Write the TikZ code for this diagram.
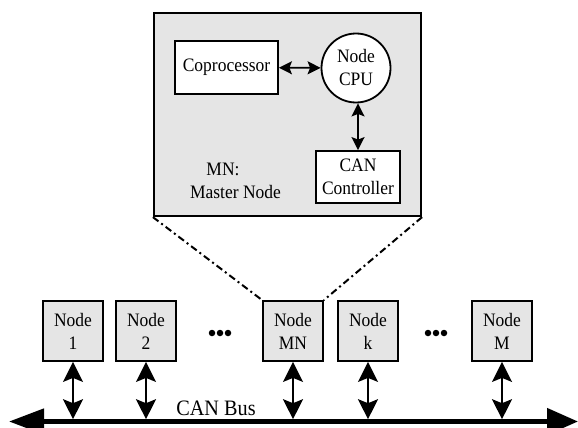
\documentclass[tikz,border=0pt]{standalone}
\usepackage{fontspec}
\setmainfont{Liberation Serif}[FakeStretch=0.92]
\usetikzlibrary{arrows.meta}
\definecolor{panel}{HTML}{E5E5E5}
\begin{document}
\begin{tikzpicture}[x=1pt,y=-1pt,
  every node/.style={inner sep=0pt,align=center,font=\fontsize{19}{23}\selectfont},
  box/.style={draw,line width=1.8pt,fill=white,minimum width=#1},
  busnode/.style={draw,line width=1.8pt,fill=panel,minimum width=60pt,minimum height=60pt},
  link/.style={line width=1.8pt,{Stealth[length=13pt,width=13pt,inset=2.5pt]}-{Stealth[length=13pt,width=13pt,inset=2.5pt]}},
  tap/.style={line width=1.8pt,{Stealth[length=20pt,width=20pt,inset=4pt]}-{Stealth[length=20pt,width=20pt,inset=4pt]}},
  zoomline/.style={line width=2pt,dash pattern=on 7pt off 3.5pt on 2pt off 3.5pt},
  dot/.style={circle,fill=black,minimum size=6.5pt}]
\useasboundingbox (0,0) rectangle (578,428);

% master node panel and its parts
\node[draw,line width=2.2pt,fill=panel,minimum width=267pt,minimum height=203pt] (master) at (287.5,114.5) {};
\node[box=103pt,minimum height=53pt] (copro) at (226.5,67.5) {Coprocessor};
\node[draw,line width=1.8pt,fill=white,circle,minimum size=69pt] (cpu) at (356,68) {Node\\CPU};
\node[box=84pt,minimum height=52pt] (canc) at (358,177) {CAN\\Controller};
\node (mnlabel) at (223,169) {MN:};
\node (mnname) at (235.5,192) {Master Node};
\draw[link] (copro) -- (cpu);
\draw[link] (cpu.south -| canc.north) -- (canc.north);

% nodes on the bus
\node[busnode] (n1) at (73,331) {Node\\1};
\node[busnode] (n2) at (146,331) {Node\\2};
\node[busnode] (nmn) at (293,331) {Node\\MN};
\node[busnode] (nk) at (368,331) {Node\\k};
\node[busnode] (nm) at (502,331) {Node\\M};

% zoom lines from the MN node to its panel
\draw[zoomline] (master.south west) -- (nmn.north west);
\draw[zoomline] (master.south east) -- (nmn.north east);

% ellipsis dots
\node[dot] (d1) at (212,333) {};
\node[dot] (d2) at (220,333) {};
\node[dot] (d3) at (228,333) {};
\node[dot] (d4) at (428,333) {};
\node[dot] (d5) at (436,333) {};
\node[dot] (d6) at (444,333) {};

% CAN bus
\coordinate (busL) at (9,421.5);
\coordinate (busR) at (578,421.5);
\coordinate (bustop) at (0,419.2);
\draw[line width=4.6pt,{Triangle[length=35pt,width=25pt]}-{Triangle[length=31pt,width=26pt]}] (busL) -- (busR);
\node[font=\fontsize{22}{26}\selectfont,anchor=base] (buslabel) at (216,415) {CAN Bus};

\foreach \n in {n1,n2,nmn,nk,nm}
  \draw[tap] (\n.south) -- (\n.south |- bustop);
\end{tikzpicture}
\end{document}
